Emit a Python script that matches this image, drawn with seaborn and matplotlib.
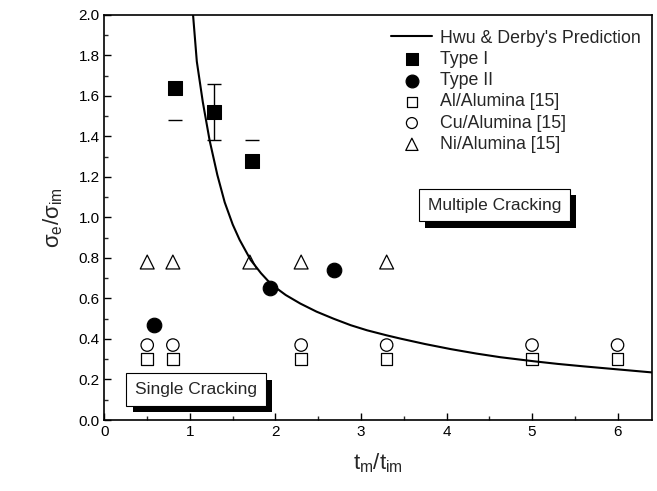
import matplotlib
matplotlib.use("Agg")
import matplotlib.pyplot as plt
import matplotlib.patheffects as pe
from matplotlib.ticker import MultipleLocator
import seaborn as sns
import pandas as pd

# ---- data ----
curve_x = [1.036, 1.08, 1.15, 1.23, 1.32, 1.406, 1.50, 1.58, 1.71, 1.83, 1.95, 2.12, 2.29,
           2.48, 2.68, 2.88, 3.07, 3.30, 3.46, 3.75, 4.05, 4.35, 4.63, 5.02, 5.30, 5.60, 6.00, 6.40]
curve_y = [2.00, 1.77, 1.57, 1.38, 1.21, 1.075, 0.965, 0.89, 0.79, 0.725, 0.67, 0.617, 0.575,
           0.535, 0.50, 0.468, 0.443, 0.418, 0.402, 0.375, 0.35, 0.328, 0.31, 0.29, 0.277, 0.265, 0.25, 0.235]

type1_x = [0.82, 1.28, 1.73]
type1_y = [1.64, 1.52, 1.28]
type1_err_lo = [0.16, 0.14, 0.0]
type1_err_hi = [0.0, 0.14, 0.10]

type2_x = [0.58, 1.93, 2.68]
type2_y = [0.47, 0.65, 0.74]

al_x = [0.5, 0.8, 2.3, 3.3, 5.0, 6.0]
al_y = [0.30, 0.30, 0.30, 0.30, 0.30, 0.30]
cu_x = [0.5, 0.8, 2.3, 3.3, 5.0, 6.0]
cu_y = [0.37, 0.37, 0.37, 0.37, 0.37, 0.37]
ni_x = [0.5, 0.8, 1.7, 2.3, 3.3]
ni_y = [0.78, 0.78, 0.78, 0.78, 0.78]

x_ticks = [0, 1, 2, 3, 4, 5, 6]
y_ticks = [0.0, 0.2, 0.4, 0.6, 0.8, 1.0, 1.2, 1.4, 1.6, 1.8, 2.0]

sns.set_theme(style="ticks")
plt.rcParams['font.family'] = ['Liberation Sans', 'DejaVu Sans']
plt.rcParams['mathtext.fontset'] = 'custom'
plt.rcParams['mathtext.rm'] = 'Liberation Sans'
plt.rcParams['mathtext.it'] = 'Liberation Sans'

fig = plt.figure(figsize=(6.57, 4.91), dpi=100)
ax = fig.add_axes([0.159, 0.1446, 0.833, 0.825])

curve = pd.DataFrame({"x": curve_x, "y": curve_y})
sns.lineplot(data=curve, x="x", y="y", ax=ax, color="black", lw=1.5,
             label="Hwu & Derby's Prediction", sort=False)

# error bars for Type I
ax.errorbar(type1_x[1:2], type1_y[1:2], yerr=[type1_err_lo[1:2], type1_err_hi[1:2]],
            fmt="none", ecolor="black", elinewidth=1.0, capsize=5, capthick=1.0, zorder=2)
ax.errorbar(type1_x[0:1] + type1_x[2:3], type1_y[0:1] + type1_y[2:3],
            yerr=[type1_err_lo[0:1] + type1_err_lo[2:3], type1_err_hi[0:1] + type1_err_hi[2:3]],
            fmt="none", ecolor="black", elinewidth=0, capsize=5, capthick=1.0, zorder=2)

sns.scatterplot(x=type1_x, y=type1_y, ax=ax, marker="s", s=90, color="black",
                edgecolor="black", label="Type I", zorder=3)
sns.scatterplot(x=type2_x, y=type2_y, ax=ax, marker="o", s=110, color="black",
                edgecolor="black", label="Type II", zorder=3)
sns.scatterplot(x=al_x, y=al_y, ax=ax, marker="s", s=70, facecolor="none",
                edgecolor="black", linewidth=0.9, label="Al/Alumina [15]", zorder=3)
sns.scatterplot(x=cu_x, y=cu_y, ax=ax, marker="o", s=80, facecolor="none",
                edgecolor="black", linewidth=0.9, label="Cu/Alumina [15]", zorder=3)
sns.scatterplot(x=ni_x, y=ni_y, ax=ax, marker="^", s=100, facecolor="none",
                edgecolor="black", linewidth=0.9, label="Ni/Alumina [15]", zorder=3)

ax.set_xlim(0, 6.4)
ax.set_ylim(0, 2.0)
ax.set_xticks(x_ticks)
ax.set_xticklabels([str(t) for t in x_ticks])
ax.set_yticks(y_ticks)
ax.set_yticklabels([f"{t:.1f}" for t in y_ticks])
ax.xaxis.set_minor_locator(MultipleLocator(0.5))
ax.yaxis.set_minor_locator(MultipleLocator(0.1))
ax.tick_params(which="major", direction="in", length=5, width=1.0, labelsize=11,
               colors="black", top=False, right=False)
ax.tick_params(which="minor", direction="in", length=3, width=1.0, top=False, right=False)
for s in ax.spines.values():
    s.set_visible(True)
    s.set_color("black")
    s.set_linewidth(1.2)

ax.set_xlabel(r"$\mathregular{t_m/t_{im}}$", fontsize=16, labelpad=9)
ax.set_ylabel(r"$\mathregular{\sigma_e/\sigma_{im}}$", fontsize=16, labelpad=10)

leg = ax.legend(loc="upper right", bbox_to_anchor=(1.0, 0.99), frameon=False, fontsize=12.8,
                handlelength=2.3, labelspacing=0.24, borderaxespad=0.2, handletextpad=0.45,
                markerscale=0.88)

shadow = [pe.withSimplePatchShadow(offset=(4.5, -4.5), shadow_rgbFace="black", alpha=1.0)]
t1 = ax.text(4.56, 1.06, "Multiple Cracking", fontsize=12.5, ha="center", va="center",
             bbox=dict(boxstyle="square,pad=0.5", fc="white", ec="black", lw=0.8))
t1.get_bbox_patch().set_path_effects(shadow)
t2 = ax.text(1.07, 0.15, "Single Cracking", fontsize=12.5, ha="center", va="center",
             bbox=dict(boxstyle="square,pad=0.5", fc="white", ec="black", lw=0.8))
t2.get_bbox_patch().set_path_effects(shadow)

fig.savefig("out.png", dpi=100)
